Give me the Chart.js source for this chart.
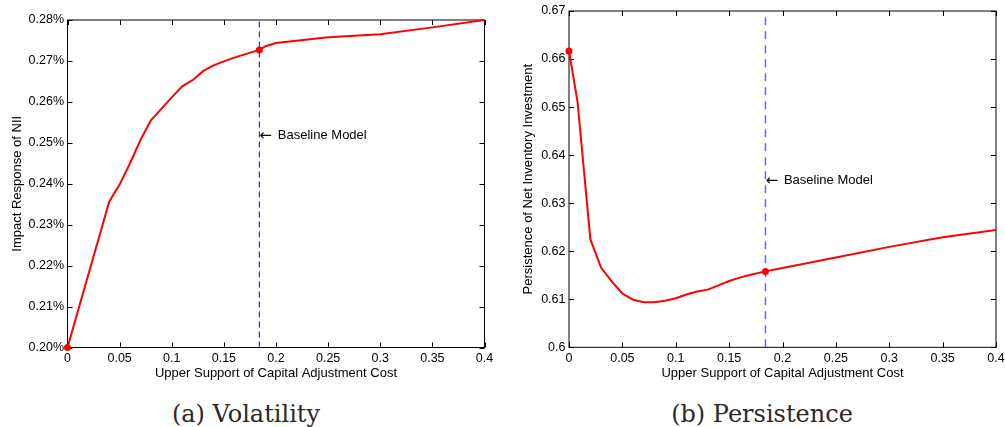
<!DOCTYPE html>
<html>
<head>
<meta charset="utf-8">
<script src="https://cdn.jsdelivr.net/npm/chart.js@4.4.1/dist/chart.umd.min.js"></script>
<style>
    body { margin: 0; width: 1005px; height: 427px; overflow: hidden; background: #fff; position: relative; }
    canvas { position: absolute; top: 0; }
    #chartVol { left: 0; }
    #chartPers { left: 500px; }
    .caption { position: absolute; top: 399px; width: 300px; text-align: center;
               font-family: "DejaVu Serif", serif; font-size: 24px; line-height: 30px; color: #2a2a2a; }
</style>
</head>
<body>
<canvas id="chartVol" width="500" height="390"></canvas>
<canvas id="chartPers" width="520" height="390"></canvas>
<div class="caption" style="left:96px">(a) Volatility</div>
<div class="caption" style="left:612px">(b) Persistence</div>
<script>
// Valeurs
const volX = [0, 0.04, 0.05, 0.06, 0.07, 0.08, 0.09, 0.1, 0.11, 0.12, 0.13, 0.14, 0.15, 0.16, 0.17, 0.184, 0.19, 0.2, 0.25, 0.3, 0.35, 0.4];
const volY = [0.2000, 0.2356, 0.2398, 0.2450, 0.2507, 0.2555, 0.2583, 0.2611, 0.2638, 0.2653, 0.2675, 0.2689, 0.2699, 0.2708, 0.2716, 0.2727, 0.2736, 0.2744, 0.2758, 0.2765, 0.2782, 0.2800];

const persX = [0, 0.008, 0.02, 0.03, 0.04, 0.05, 0.06, 0.07, 0.08, 0.09, 0.1, 0.11, 0.12, 0.13, 0.14, 0.15, 0.16, 0.17, 0.184, 0.2, 0.25, 0.3, 0.35, 0.4];
const persY = [0.6617, 0.6511, 0.6225, 0.6166, 0.6137, 0.6112, 0.6099, 0.6094, 0.6094, 0.6097, 0.6102, 0.6110, 0.6116, 0.6120, 0.6129, 0.6138, 0.6145, 0.6151, 0.6158, 0.6165, 0.6187, 0.6209, 0.6229, 0.6244];

const baselineX = 0.184;
const markerX = [0, 0.184];

const xTicks = [0, 0.05, 0.1, 0.15, 0.2, 0.25, 0.3, 0.35, 0.4];
const xTickLabels = ['0', '0.05', '0.1', '0.15', '0.2', '0.25', '0.3', '0.35', '0.4'];
const volTicks = [0.20, 0.21, 0.22, 0.23, 0.24, 0.25, 0.26, 0.27, 0.28];
const volTickLabels = ['0.20%', '0.21%', '0.22%', '0.23%', '0.24%', '0.25%', '0.26%', '0.27%', '0.28%'];
const persTicks = [0.60, 0.61, 0.62, 0.63, 0.64, 0.65, 0.66, 0.67];
const persTickLabels = ['0.6', '0.61', '0.62', '0.63', '0.64', '0.65', '0.66', '0.67'];

const xTitle = 'Upper Support of Capital Adjustment Cost';
const volTitle = 'Impact Response of NII';
const persTitle = 'Persistence of Net Inventory Investment';
const annotArrow = '\u2190';
const annotLabel = 'Baseline Model';
const volAnnotY = 0.2519;
const persAnnotY = 0.6348;

const FONT = '"Liberation Sans", Arial, Helvetica, sans-serif';

// Cadre + graduations vers l'intérieur (style Matlab) et texte d'annotation
const matlabBox = {
    id: 'matlabBox',
    beforeDatasetsDraw(chart) {
        const { ctx, chartArea: a, scales: { x, y } } = chart;
        ctx.save();
        ctx.strokeStyle = '#000';
        ctx.lineWidth = 1;
        ctx.beginPath();
        x.ticks.forEach(t => {
            const px = Math.round(x.getPixelForValue(t.value)) + 0.5;
            ctx.moveTo(px, a.bottom); ctx.lineTo(px, a.bottom - 5);
            ctx.moveTo(px, a.top); ctx.lineTo(px, a.top + 5);
        });
        y.ticks.forEach(t => {
            const py = Math.round(y.getPixelForValue(t.value)) + 0.5;
            ctx.moveTo(a.left, py); ctx.lineTo(a.left + 5, py);
            ctx.moveTo(a.right, py); ctx.lineTo(a.right - 5, py);
        });
        ctx.stroke();
        ctx.strokeRect(a.left, a.top, a.width, a.height);
        ctx.restore();
    },
    afterDatasetsDraw(chart, args, opts) {
        const { ctx, scales: { x, y } } = chart;
        const px = x.getPixelForValue(opts.x);
        const py = y.getPixelForValue(opts.y);
        ctx.save();
        ctx.fillStyle = '#000';
        ctx.textAlign = 'left';
        ctx.textBaseline = 'middle';
        ctx.font = '15px "DejaVu Sans", sans-serif';
        ctx.fillText(annotArrow, px, py + 1);
        ctx.font = '13px ' + FONT;
        ctx.fillText(annotLabel, px + 18.5, py);
        ctx.restore();
    }
};

function creerGraphique(id, cfg) {
    const canvas = document.getElementById(id);
    const yMin = cfg.yTicks[0];
    const yMax = cfg.yTicks[cfg.yTicks.length - 1];

    return new Chart(canvas, {
        type: 'line',
        data: {
            datasets: [{
                data: cfg.xs.map((v, i) => ({ x: v, y: cfg.ys[i] })),
                borderColor: '#ff0000',
                borderWidth: 2,
                pointRadius: ctx => (ctx.raw && markerX.includes(ctx.raw.x)) ? 3.5 : 0,
                pointBackgroundColor: '#ff0000',
                pointBorderWidth: 0,
                clip: false
            }, {
                data: [{ x: baselineX, y: yMin }, { x: baselineX, y: yMax }],
                borderColor: cfg.baseColor,
                borderWidth: cfg.baseWidth,
                borderDash: cfg.baseDash,
                pointRadius: 0
            }]
        },
        options: {
            responsive: false,
            animation: false,
            events: [],
            layout: { padding: cfg.padding },
            plugins: {
                legend: { display: false },
                tooltip: { enabled: false },
                matlabBox: { x: baselineX, y: cfg.annotY }
            },
            scales: {
                x: {
                    type: 'linear',
                    min: 0,
                    max: 0.4,
                    afterBuildTicks: s => { s.ticks = xTicks.map(v => ({ value: v })); },
                    afterFit: s => { s.height = cfg.xHeight; },
                    ticks: {
                        autoSkip: false, maxRotation: 0, padding: 4, color: '#000',
                        font: { family: FONT, size: 12.5 },
                        callback: (v, i) => xTickLabels[i]
                    },
                    grid: { display: false, drawTicks: false },
                    border: { display: false },
                    title: {
                        display: true, text: xTitle, color: '#000',
                        font: { family: FONT, size: 13 },
                        padding: { top: 0, bottom: 9.2 }
                    }
                },
                y: {
                    type: 'linear',
                    min: yMin,
                    max: yMax,
                    afterBuildTicks: s => { s.ticks = cfg.yTicks.map(v => ({ value: v })); },
                    afterFit: s => { s.width = cfg.yWidth; },
                    ticks: {
                        autoSkip: false, padding: 3.5, color: '#000',
                        font: { family: FONT, size: 12.5 },
                        callback: (v, i) => cfg.yLabels[i]
                    },
                    grid: { display: false, drawTicks: false },
                    border: { display: false },
                    title: {
                        display: true, text: cfg.yTitle, color: '#000',
                        font: { family: FONT, size: 13 },
                        padding: { top: cfg.yTitlePad, bottom: 0 }
                    }
                }
            }
        },
        plugins: [matlabBox]
    });
}

creerGraphique('chartVol', {
    xs: volX, ys: volY,
    yTicks: volTicks, yLabels: volTickLabels, yTitle: volTitle,
    annotY: volAnnotY,
    baseColor: '#0000ff', baseWidth: 1, baseDash: [6, 4],
    padding: { top: 20, right: 15.5, bottom: 0, left: 0 },
    yWidth: 67.5, xHeight: 42.5, yTitlePad: 9.2
});

creerGraphique('chartPers', {
    xs: persX, ys: persY,
    yTicks: persTicks, yLabels: persTickLabels, yTitle: persTitle,
    annotY: persAnnotY,
    baseColor: '#6666ff', baseWidth: 1.5, baseDash: [8, 6],
    padding: { top: 10.7, right: 24, bottom: 0, left: 0 },
    yWidth: 69, xHeight: 42.7, yTitlePad: 20.2
});
</script>
</body>
</html>
